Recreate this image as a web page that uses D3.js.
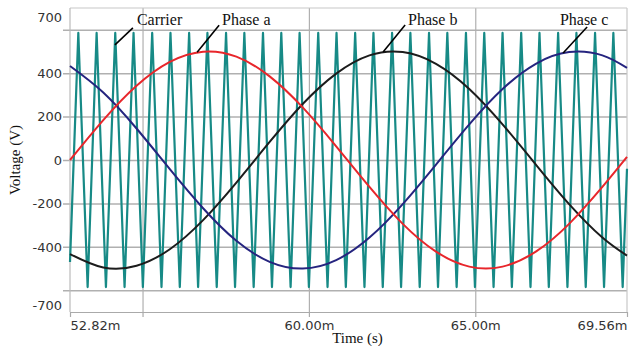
<!DOCTYPE html>
<html>
<head>
<meta charset="utf-8">
<script src="https://cdn.jsdelivr.net/npm/d3@7/dist/d3.min.js"></script>
<style>
  body { margin: 0; background: #fff; }
  svg { display: block; }
  .tick text { font-family: "DejaVu Sans", sans-serif; font-size: 13px; fill: #333; }
  .title { font-family: "Liberation Serif", "Times New Roman", serif; font-size: 15px; fill: #111; }
  .note { font-family: "Liberation Serif", "Times New Roman", serif; font-size: 16px; fill: #111; }
</style>
</head>
<body>
<svg id="chart"></svg>
<script>
// times in ms, voltages in V
const phaseTime = [52.82, 53.82, 54.82, 55.82, 56.82, 57.82, 58.82, 59.82, 60.82,
    61.82, 62.82, 63.82, 64.82, 65.82, 66.82, 67.82, 68.82, 69.56];
const phaseA = [0, 184, 342, 452, 499, 476, 385, 241, 63,
    -124, -294, -422, -491, -491, -422, -294, -124, 14];
const phaseB = [-433, -495, -487, -411, -277, -104, 83, 259, 398,
    482, 497, 443, 327, 164, -21, -203, -357, -440];
const phaseC = [433, 311, 145, -42, -222, -372, -469, -500, -461,
    -357, -203, -21, 164, 327, 443, 497, 482, 424];

const carrierPeakTime = [53.07, 53.62, 54.18, 54.73, 55.29, 55.84, 56.40, 56.95, 57.51, 58.06,
    58.62, 59.17, 59.72, 60.28, 60.83, 61.39, 61.94, 62.50, 63.05, 63.61,
    64.16, 64.72, 65.27, 65.82, 66.38, 66.93, 67.49, 68.04, 68.60, 69.15];
const carrierTroughTime = [53.35, 53.90, 54.46, 55.01, 55.57, 56.12, 56.67, 57.23, 57.78, 58.34,
    58.89, 59.45, 60.00, 60.56, 61.11, 61.67, 62.22, 62.77, 63.33, 63.88,
    64.44, 64.99, 65.55, 66.10, 66.66, 67.21, 67.77, 68.32, 68.87, 69.43];
const carrierPeak = 585;
const carrierTrough = -585;
const carrierStart = { t: 52.82, v: -470 };
const carrierEnd = { t: 69.56, v: -40 };

const yTickValues = [700, 400, 200, 0, -200, -400, -700];
const yGridValues = [600, 400, 200, 0, -200, -400, -600];
const xTickValues = [52.82, 55, 60, 65, 69.56];
const xTickLabels = ['52.82m', '', '60.00m', '65.00m', '69.56m'];
const xGridValues = [55, 60, 65];

const noteNames = ['Carrier', 'Phase a', 'Phase b', 'Phase c'];
const noteTime = [54.17, 56.64, 62.23, 67.64];
const noteVolt = [530, 496, 497, 493];

const W = 637, H = 346;
const margin = { top: 8, right: 10, bottom: 34, left: 70 };
const width = W - margin.left - margin.right;
const height = H - margin.top - margin.bottom;

const svg = d3.select('#chart').attr('width', W).attr('height', H)
    .append('g')
    .attr('transform', 'translate(' + margin.left + ',' + margin.top + ')');

const x = d3.scaleLinear().domain([52.82, 69.56]).range([0, width]);
const y = d3.scaleLinear().domain([-700, 700]).range([height, 0]);

// grid
const gridColor = '#b0b0b0';
svg.append('g')
    .attr('transform', 'translate(-7,0)')
    .call(d3.axisLeft(y).tickValues(yGridValues).tickSize(-(width + 7)).tickFormat(''))
    .call(g => g.select('.domain').remove())
    .call(g => g.selectAll('line').attr('stroke', gridColor).attr('stroke-width', 1.5));
svg.append('g')
    .call(d3.axisBottom(x).tickValues(xGridValues).tickSize(height).tickFormat(''))
    .call(g => g.select('.domain').remove())
    .call(g => g.selectAll('line').attr('stroke', gridColor).attr('stroke-width', 1.2));

// frame
svg.append('line').attr('x1', 0).attr('x2', width).attr('y1', 0).attr('y2', 0)
    .attr('stroke', '#c8c8c8').attr('stroke-width', 1.2);
svg.append('line').attr('x1', width).attr('x2', width).attr('y1', 0).attr('y2', height)
    .attr('stroke', '#c8c8c8').attr('stroke-width', 1.2);
svg.append('line').attr('x1', 0).attr('x2', 0).attr('y1', 0).attr('y2', height)
    .attr('stroke', '#bbb').attr('stroke-width', 1.2);

// y labels (plain hyphen like the original)
const yAxis = svg.append('g')
    .call(d3.axisLeft(y).tickValues(yTickValues).tickSize(0).tickPadding(8).tickFormat(d => String(d)))
    .call(g => g.select('.domain').remove());
yAxis.selectAll('.tick text')
    .attr('dy', d => d === 700 ? '1.0em' : d === -700 ? '-0.2em' : '0.32em');

// x axis
const xAxis = svg.append('g')
    .attr('transform', 'translate(0,' + height + ')')
    .call(d3.axisBottom(x).tickValues(xTickValues).tickSize(5).tickSizeOuter(0).tickPadding(4)
        .tickFormat((d, i) => xTickLabels[i]));
xAxis.select('.domain').attr('stroke', '#aaa').attr('stroke-width', 1.2);
xAxis.selectAll('.tick line').attr('stroke', '#aaa').attr('stroke-width', 1.2);
xAxis.selectAll('.tick text')
    .attr('text-anchor', (d, i) => i === 0 ? 'start' : i === xTickValues.length - 1 ? 'end' : 'middle');

// carrier
const carrierPts = [carrierStart]
    .concat(carrierPeakTime.map(t => ({ t: t, v: carrierPeak })))
    .concat(carrierTroughTime.map(t => ({ t: t, v: carrierTrough })))
    .concat([carrierEnd])
    .sort((a, b) => a.t - b.t);

const carrierLine = d3.line().x(d => x(d.t)).y(d => y(d.v));
svg.append('path').datum(carrierPts)
    .attr('fill', 'none').attr('stroke', '#178a86').attr('stroke-width', 2.2)
    .attr('stroke-linejoin', 'round')
    .attr('d', carrierLine);

// phases
const phaseLine = d3.line().x((d, i) => x(phaseTime[i])).y(d => y(d)).curve(d3.curveNatural);
const phases = [
    { v: phaseB, c: '#1c1c1c' },
    { v: phaseC, c: '#25247f' },
    { v: phaseA, c: '#e8262b' }
];
phases.forEach(p => {
    svg.append('path').datum(p.v)
        .attr('fill', 'none').attr('stroke', p.c).attr('stroke-width', 2)
        .attr('d', phaseLine);
});

// annotations
const noteDx = [18, 22, 22, 24];
const noteDy = [-17, -27, -27, -26];
const noteTx = [4, 3, 3, -3];
const noteAnchor = ['start', 'start', 'start', 'middle'];
noteNames.forEach((n, i) => {
    const px = x(noteTime[i]), py = y(noteVolt[i]);
    svg.append('line')
        .attr('x1', px).attr('y1', py)
        .attr('x2', px + noteDx[i]).attr('y2', py + noteDy[i])
        .attr('stroke', '#000').attr('stroke-width', 1.6);
    svg.append('text').attr('class', 'note')
        .attr('x', px + noteDx[i] + noteTx[i])
        .attr('y', 17)
        .attr('text-anchor', noteAnchor[i])
        .text(n);
});

// titles
svg.append('text').attr('class', 'title')
    .attr('x', width / 2 + 9).attr('y', height + 31)
    .attr('text-anchor', 'middle')
    .text('Time (s)');
svg.append('text').attr('class', 'title')
    .attr('transform', 'translate(' + (-50) + ',' + (height / 2) + ') rotate(-90)')
    .attr('text-anchor', 'middle')
    .text('Voltage (V)');
</script>
</body>
</html>
